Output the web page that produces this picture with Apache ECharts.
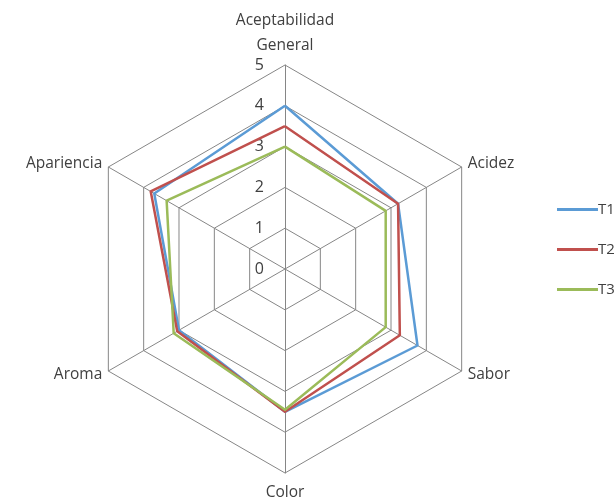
<!DOCTYPE html>
<html><head><meta charset="utf-8">
<script src="https://cdn.jsdelivr.net/npm/echarts@6/dist/echarts.min.js"></script>
<style>html,body{margin:0;padding:0;background:#fff}#c{width:616px;height:503px}</style>
</head><body><div id="c"></div>
<script>
// Clockwise order as in the reference, starting at top
const indicators = ['Aceptabilidad\nGeneral', 'Acidez', 'Sabor', 'Color', 'Aroma', 'Apariencia'];
const seriesNames = ['T1', 'T2', 'T3'];
const T1 = [4.0, 3.2, 3.75, 3.5, 3.0, 3.7];
const T2 = [3.5, 3.2, 3.25, 3.5, 3.05, 3.8];
const T3 = [3.0, 2.85, 2.85, 3.45, 3.15, 3.35];
const tickLabels = ['0', '1', '2', '3', '4', '5'];
const colors = ['#5B9BD5', '#C0504D', '#9BBB59'];
const values = [T1, T2, T3];
const font = '"Open Sans", "Noto Sans", sans-serif';

// ECharts radar runs counterclockwise: reorder keeping the first at top
const toCCW = arr => [arr[0]].concat(arr.slice(1).reverse());

const chart = echarts.init(document.getElementById('c'));
chart.setOption({
  animation: false,
  color: colors,
  legend: {
    orient: 'vertical', left: 552, top: 196,
    itemWidth: 41, itemHeight: 3, itemGap: 23, icon: 'rect',
    textStyle: { fontFamily: font, fontSize: 15, color: '#404040', padding: [0,0,0,-5], lineHeight: 17 },
    data: seriesNames
  },
  radar: {
    center: [285, 269], radius: 204,
    startAngle: 90, shape: 'polygon', splitNumber: 5,
    indicator: toCCW(indicators).map(n => ({ name: n, min: 0, max: 5 })),
    axisName: { color: '#404040', fontFamily: font, fontSize: 15.5, lineHeight: 25 },
    nameGap: 7,
    splitLine: { lineStyle: { color: '#868686', width: 1 } },
    splitArea: { show: false },
    axisLine: { lineStyle: { color: '#868686', width: 1 } },
    axisTick: { show: false },
    axisLabel: { show: false }
  },
  polar: { center: [285, 269], radius: 204 },
  angleAxis: { show: false, startAngle: 90, min: 0, max: 360 },
  radiusAxis: {
    min: 0, max: 5, interval: 1,
    axisLine: { show: false }, axisTick: { show: false }, splitLine: { show: false },
    axisLabel: { show: true, color: '#404040', fontFamily: font, fontSize: 16, margin: 21,
      formatter: (v) => tickLabels[Math.round(v)] }
  },
  series: [{
    type: 'radar',
    symbol: 'none',
    lineStyle: { width: 2.5 },
    data: seriesNames.map((n, i) => ({ name: n, value: toCCW(values[i]), lineStyle: { color: colors[i], width: 2.5 }, itemStyle: { color: colors[i] } }))
  }]
});
</script></body></html>
